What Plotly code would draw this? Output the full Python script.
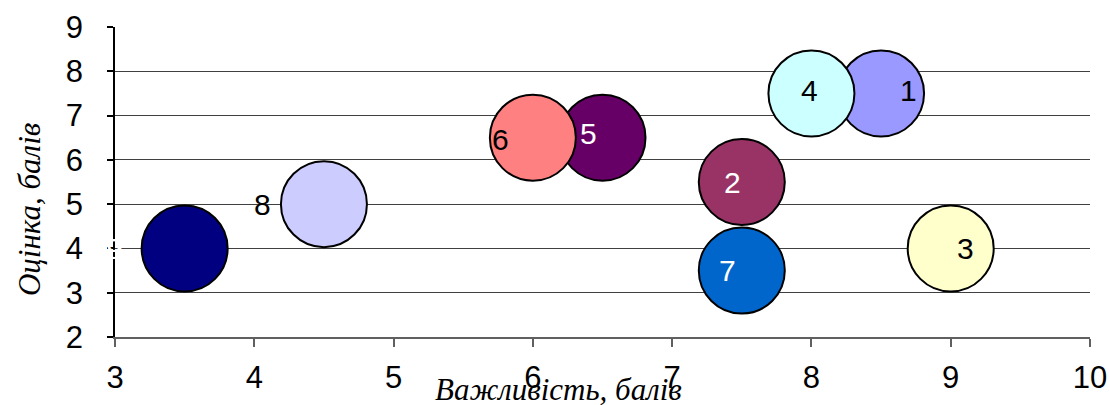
import plotly.graph_objects as go

# Bubble data: importance (x) vs rating (y) for nine items
labels = ["1", "2", "3", "4", "5", "6", "7", "8", "9"]
importance = [8.5, 7.5, 9.0, 8.0, 6.5, 6.0, 7.5, 4.5, 3.5]
rating = [7.5, 5.5, 4.0, 7.5, 6.5, 6.5, 3.5, 5.0, 4.0]

x_ticks = [3, 4, 5, 6, 7, 8, 9, 10]
y_ticks = [2, 3, 4, 5, 6, 7, 8, 9]

x_title = "Важливість, балів"
y_title = "Оцінка, балів"

# Styling per bubble
fill_colors = ["#9999FF", "#993366", "#FFFFCC", "#CCFFFF", "#660066",
               "#FF8080", "#0066CC", "#CCCCFF", "#000080"]
text_colors = ["black", "white", "black", "black", "white",
               "black", "white", "black", "white"]
# label offsets in pixels (dx, dy) relative to bubble centres
label_shift = [(27, 3), (-9, 0), (15, 0), (-2, 3), (-14, 4),
               (-32, -2), (-14, 0), (-61, 0), (-70, 0)]

BUBBLE_D = 86
LABEL_FONT = dict(family="Liberation Sans, Arial, sans-serif", size=30)

fig = go.Figure()
for i, lab in enumerate(labels):
    fig.add_trace(go.Scatter(
        x=[importance[i]], y=[rating[i]],
        mode="markers",
        marker=dict(size=BUBBLE_D, color=fill_colors[i], opacity=1,
                    line=dict(color="black", width=2)),
        showlegend=False, hoverinfo="skip", cliponaxis=False,
    ))

for i, lab in enumerate(labels):
    dx, dy = label_shift[i]
    fig.add_annotation(
        x=importance[i], y=rating[i], text=lab, showarrow=False,
        xshift=dx, yshift=dy,
        font=dict(LABEL_FONT, color=text_colors[i]),
    )

title_font = dict(family="Liberation Serif, Times New Roman, serif", size=31,
                  color="black", style="italic")
fig.add_annotation(
    text=x_title, xref="paper", yref="paper", x=0.455, y=-0.168,
    xanchor="center", yanchor="middle", showarrow=False, font=title_font,
)
fig.add_annotation(
    text=y_title, xref="paper", yref="paper", x=-0.087, y=0.41,
    xanchor="center", yanchor="middle", showarrow=False, textangle=-90,
    font=title_font,
)

tick_font = dict(family="Liberation Sans, Arial, sans-serif", size=31, color="black")

fig.update_xaxes(
    range=[3, 10], tickvals=x_ticks, ticktext=[str(v) for v in x_ticks],
    showgrid=False, zeroline=False, automargin=False,
    showline=True, linecolor="#606060", linewidth=1.5,
    ticks="outside", ticklen=8, tickcolor="#606060", tickwidth=1.5,
    tickfont=tick_font, ticklabelstandoff=4,
)
fig.update_yaxes(
    range=[2, 9], tickvals=y_ticks, ticktext=[str(v) for v in y_ticks],
    showgrid=True, gridcolor="#404040", gridwidth=1,
    zeroline=False, automargin=False,
    showline=True, linecolor="black", linewidth=1.5,
    ticks="outside", ticklen=6, tickcolor="black", tickwidth=1.5,
    tickfont=tick_font, ticklabelstandoff=18,
)

fig.update_layout(
    width=1110, height=405,
    margin=dict(l=115, r=20, t=27, b=68, autoexpand=False),
    plot_bgcolor="white", paper_bgcolor="white",
)

fig.write_html("out.html")
